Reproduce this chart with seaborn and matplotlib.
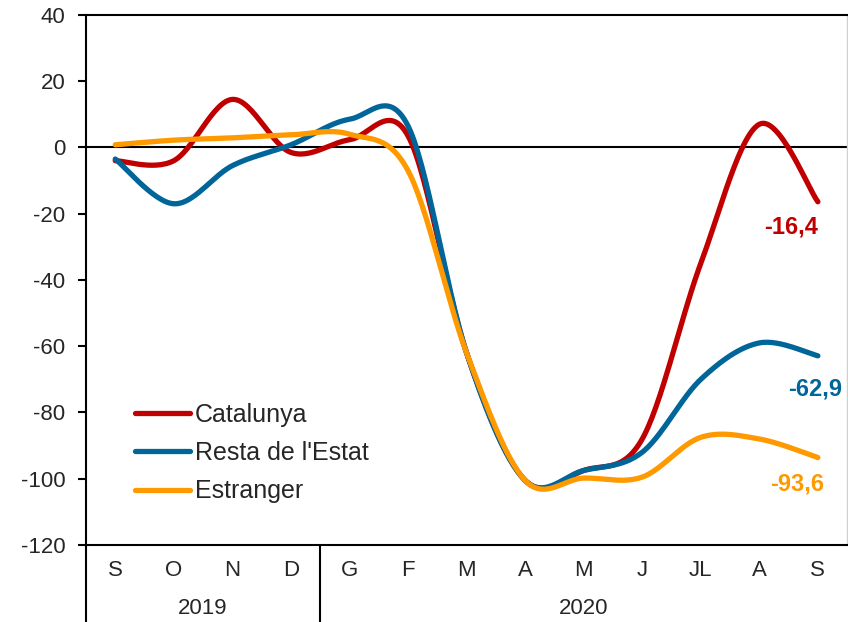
import matplotlib
matplotlib.use("Agg")
import matplotlib.pyplot as plt
import numpy as np
import pandas as pd
import seaborn as sns

months = ["S", "O", "N", "D", "G", "F", "M", "A", "M", "J", "JL", "A", "S"]
years = ["2019", "2020"]
catalunya = [-4, -4, 14.5, -1.5, 2.3, 3.5, -62, -100.5, -97.5, -88, -35, 7, -16.4]
resta = [-3.5, -17, -5.5, 0.8, 8.5, 6.5, -62, -100.5, -97.5, -92, -70, -59, -62.9]
estranger = [0.8, 2.2, 2.9, 3.8, 4.0, -7, -62, -100.5, -99.8, -99.5, -87.5, -88, -93.6]
series_names = ["Catalunya", "Resta de l'Estat", "Estranger"]
colors = ["#C00000", "#006699", "#FF9900"]
end_labels = ["-16,4", "-62,9", "-93,6"]


def smooth(values, steps=30):
    """Catmull-Rom curve through the points, like Excel's smoothed line."""
    y = np.asarray(values, dtype=float)
    x = np.arange(len(y), dtype=float)
    px = np.concatenate([[x[0]], x, [x[-1]]])
    py = np.concatenate([[y[0]], y, [y[-1]]])
    xs, ys = [], []
    t = np.linspace(0, 1, steps, endpoint=False)
    for i in range(1, len(px) - 2):
        for p, out in ((px, xs), (py, ys)):
            p0, p1, p2, p3 = p[i - 1], p[i], p[i + 1], p[i + 2]
            out.extend(0.5 * ((2 * p1) + (-p0 + p2) * t
                              + (2 * p0 - 5 * p1 + 4 * p2 - p3) * t ** 2
                              + (-p0 + 3 * p1 - 3 * p2 + p3) * t ** 3))
    xs.append(x[-1])
    ys.append(y[-1])
    return np.array(xs), np.array(ys)


sns.set_style("white")
plt.rcParams['font.family'] = ['Liberation Sans', 'DejaVu Sans']
plt.rcParams['axes.unicode_minus'] = False

fig = plt.figure(figsize=(8.48, 6.22), dpi=100)
ax = fig.add_axes([0.1014, 0.1238, 0.8976, 0.8522])

ax.axhline(0, color="black", lw=1.5, zorder=1)

for name, vals, col in zip(series_names, [catalunya, resta, estranger], colors):
    sx, sy = smooth(vals)
    df = pd.DataFrame({"x": sx, "y": sy})
    sns.lineplot(data=df, x="x", y="y", ax=ax, color=col, lw=3.8,
                 label=name, sort=False, solid_capstyle="round", zorder=3)

# end labels
last = len(months) - 1
lab_kw = dict(fontsize=17, fontweight="bold", ha="center", va="center")
ax.text(last - 0.45, catalunya[-1] - 7.5, end_labels[0], color=colors[0], **lab_kw)
ax.text(last - 0.05, resta[-1] - 10, end_labels[1], color=colors[1], **lab_kw)
ax.text(last - 0.35, estranger[-1] - 8, end_labels[2], color=colors[2], **lab_kw)

ax.set_xlim(-0.5, last + 0.5)
ax.set_ylim(-120, 40)
ax.set_yticks(np.arange(-120, 41, 20))
ax.set_xticks(range(len(months)))
ax.set_xticklabels(months)
ax.tick_params(axis="y", which="both", left=True, length=6, width=1.5,
               color="black", labelsize=16, pad=9)
ax.tick_params(axis="x", length=0, labelsize=16, pad=11)
ax.set_xlabel("")
ax.set_ylabel("")

for side in ["left", "top", "bottom"]:
    ax.spines[side].set_color("black")
    ax.spines[side].set_linewidth(1.5)
ax.spines["right"].set_color("#d0d0d0")
ax.spines["right"].set_linewidth(1)

# year separators under the axis
trans = ax.get_xaxis_transform()
drop = -80 / 530
for xpos in [-0.5, 3.5]:
    ax.plot([xpos, xpos], [0, drop], color="black", lw=1.5,
            transform=trans, clip_on=False)
ax.text(1.5, -0.119, years[0], transform=trans, ha="center", va="center",
        fontsize=16)
ax.text(8, -0.119, years[1], transform=trans, ha="center", va="center",
        fontsize=16)

leg = ax.legend(loc="upper left", bbox_to_anchor=(0.064, 0.268), frameon=False,
                fontsize=18, handlelength=2.2, handletextpad=0.2,
                labelspacing=0.57, borderaxespad=0, borderpad=0)
for line in leg.get_lines():
    line.set_linewidth(3.8)

fig.savefig("out.png", dpi=100)
plt.close()
